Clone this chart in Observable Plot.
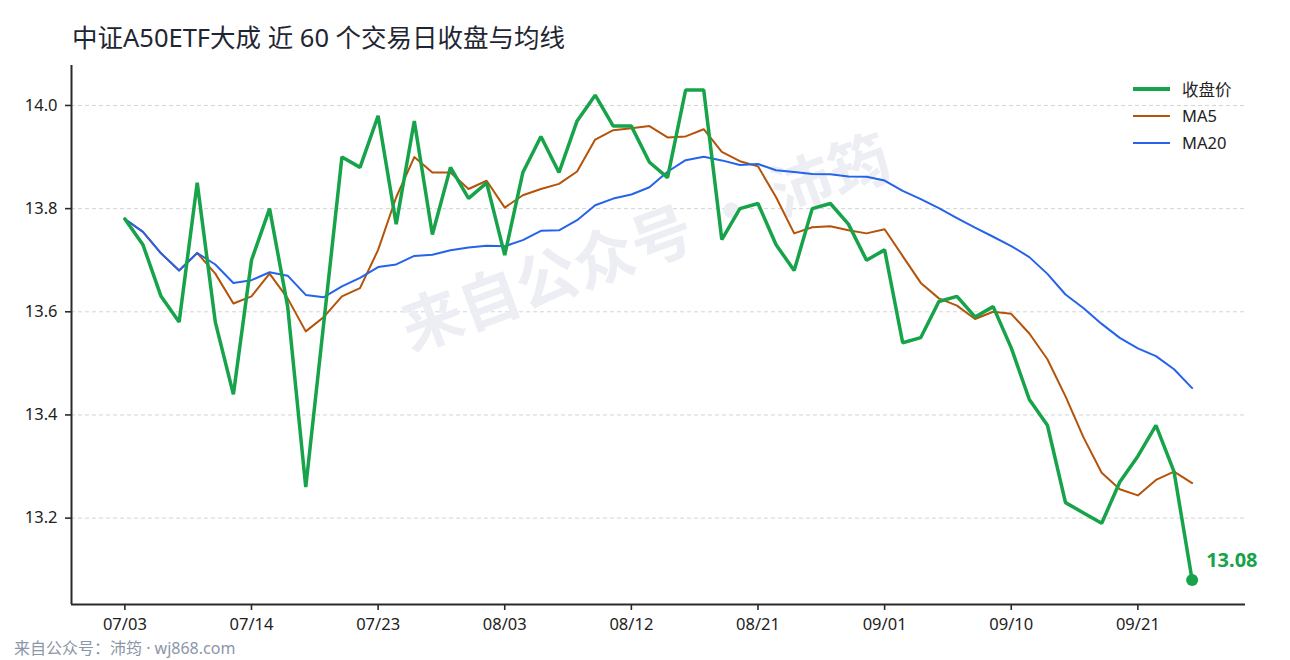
<!DOCTYPE html>
<html>
<head>
<meta charset="utf-8">
<script src="https://cdn.jsdelivr.net/npm/d3@7"></script>
<script src="https://cdn.jsdelivr.net/npm/@observablehq/plot@0.6"></script>
<style>
  html, body { margin: 0; padding: 0; background: #fff; }
  body { font-family: "Noto Sans", "Noto Sans CJK SC", sans-serif; }
  #wrap { position: relative; width: 1290px; height: 660px; overflow: hidden; }
  #title { position: absolute; left: 72px; top: 19px; font-size: 25.5px; line-height: 36px; color: #1f2633; white-space: nowrap; }
  #chart { position: absolute; left: 0; top: 60px; }
  #legend { position: absolute; left: 1133px; top: 75px; font-size: 16.5px; color: #222; }
  .row { height: 27px; display: flex; align-items: center; }
  .sw { width: 37px; margin-right: 12px; }
  #caption { position: absolute; left: 14px; top: 637px; font-size: 16px; line-height: 22px; color: #8c96a8; white-space: nowrap; }
</style>
</head>
<body>
<div id="wrap">
  <div id="title"></div>
  <div id="chart"></div>
  <div id="legend"></div>
  <div id="caption"></div>
</div>
<script>
// ---- data ----
const titleText = "中证A50ETF大成 近 60 个交易日收盘与均线";
const captionText = "来自公众号：沛筠 · wj868.com";
const watermarkText = "来自公众号 · 沛筠";

const closes = [
  13.78, 13.73, 13.63, 13.58, 13.85, 13.58, 13.44, 13.70, 13.80, 13.61,
  13.26, 13.58, 13.90, 13.88, 13.98, 13.77, 13.97, 13.75, 13.88, 13.82,
  13.85, 13.71, 13.87, 13.94, 13.87, 13.97, 14.02, 13.96, 13.96, 13.89,
  13.86, 14.03, 14.03, 13.74, 13.80, 13.81, 13.73, 13.68, 13.80, 13.81,
  13.77, 13.70, 13.72, 13.54, 13.55, 13.62, 13.63, 13.59, 13.61, 13.53,
  13.43, 13.38, 13.23, 13.21, 13.19, 13.27, 13.32, 13.38, 13.29, 13.08
];
const tickIndex = [0, 7, 14, 21, 28, 35, 42, 49, 56];
const tickLabels = ["07/03", "07/14", "07/23", "08/03", "08/12", "08/21", "09/01", "09/10", "09/21"];
const yTicks = [13.2, 13.4, 13.6, 13.8, 14.0];
const seriesNames = ["收盘价", "MA5", "MA20"];
const seriesColors = ["#16a34a", "#b45309", "#2563eb"];
const seriesWidths = [3.5, 2, 2];

// moving averages of the closes (rolling mean, partial window at the start)
const rolling = (arr, n) => arr.map((_, i) => d3.mean(arr.slice(Math.max(0, i - n + 1), i + 1)));
const ma5 = rolling(closes, 5);
const ma20 = rolling(closes, 20);

const data = closes.map((c, i) => ({i, close: c, ma5: ma5[i], ma20: ma20[i]}));
const last = [data[data.length - 1]];

// matplotlib-like 5% margins
const n = closes.length;
const xPad = (n - 1) * 0.05;
const xDomain = [-xPad, n - 1 + xPad];
const yMin = d3.min(closes), yMax = d3.max(closes);
const yPad = (yMax - yMin) * 0.05;
const yDomain = [yMin - yPad, yMax + yPad];

const font = '"Noto Sans", "Noto Sans CJK SC", sans-serif';

const chart = Plot.plot({
  width: 1290,
  height: 580,
  marginLeft: 71,
  marginRight: 45,
  marginTop: 5,
  marginBottom: 36,
  style: {fontFamily: font, fontSize: "16.5px", color: "#222", background: "transparent"},
  x: {domain: xDomain, label: null},
  y: {domain: yDomain, label: null},
  marks: [
    Plot.gridY(yTicks, {stroke: "#d4d4d4", strokeOpacity: 1, strokeDasharray: "4,3", strokeWidth: 1}),
    Plot.text([watermarkText], {
      frameAnchor: "middle", dx: -12, dy: -90, rotate: -20,
      fontSize: 61, fontWeight: "bold", fill: "#eceef3", fontFamily: '"Noto Sans CJK SC", sans-serif'
    }),
    Plot.line(data, {x: "i", y: "ma5", stroke: seriesColors[1], strokeWidth: seriesWidths[1]}),
    Plot.line(data, {x: "i", y: "ma20", stroke: seriesColors[2], strokeWidth: seriesWidths[2]}),
    Plot.line(data, {x: "i", y: "close", stroke: seriesColors[0], strokeWidth: seriesWidths[0], strokeLinejoin: "miter"}),
    Plot.dot(last, {x: "i", y: "close", r: 6, fill: seriesColors[0], stroke: null}),
    Plot.text(last, {
      x: "i", y: "close", text: d => d.close.toFixed(2),
      dx: 14, dy: -19, textAnchor: "start", fill: seriesColors[0],
      fontWeight: "bold", fontSize: 20
    }),
    Plot.ruleX([xDomain[0]], {stroke: "#2a2a2a", strokeWidth: 2}),
    Plot.ruleY([yDomain[0]], {stroke: "#2a2a2a", strokeWidth: 2}),
    Plot.axisX(tickIndex, {
      tickSize: 6, tickPadding: 8, stroke: "#2a2a2a", strokeWidth: 1.6,
      tickFormat: i => tickLabels[tickIndex.indexOf(i)], fill: "#222", label: null
    }),
    Plot.axisY(yTicks, {
      tickSize: 6, tickPadding: 8, stroke: "#2a2a2a", strokeWidth: 1.6,
      tickFormat: d => d.toFixed(1), fill: "#222", label: null
    })
  ]
});
document.getElementById("chart").append(chart);

document.getElementById("title").textContent = titleText;
document.getElementById("caption").textContent = captionText;

const legend = document.getElementById("legend");
seriesNames.forEach((name, k) => {
  const row = document.createElement("div");
  row.className = "row";
  const sw = document.createElement("span");
  sw.className = "sw";
  sw.style.borderTop = `${seriesWidths[k] + 0.5}px solid ${seriesColors[k]}`;
  const label = document.createElement("span");
  label.textContent = name;
  row.append(sw, label);
  legend.append(row);
});
</script>
</body>
</html>
